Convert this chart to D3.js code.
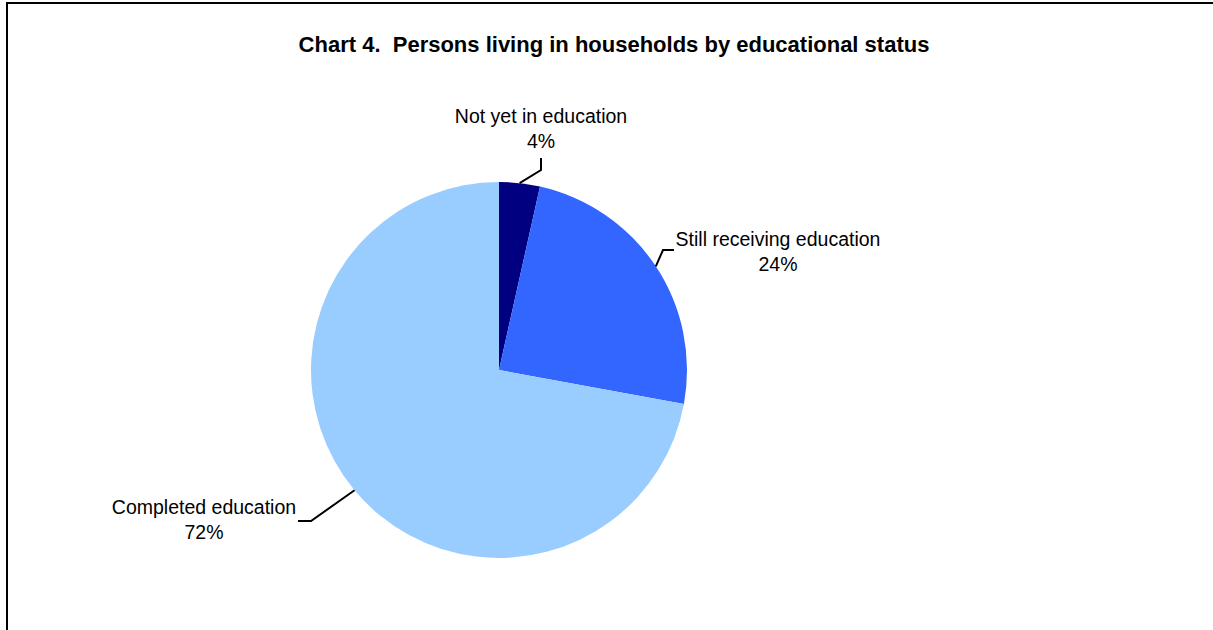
<!DOCTYPE html>
<html><head><meta charset="utf-8">
<script src="https://cdn.jsdelivr.net/npm/d3@7"></script>
<style>
html,body{margin:0;padding:0;background:#fff;}
svg{display:block;font-family:"Liberation Sans",Arial,sans-serif;}
text{white-space:pre;}
</style></head>
<body>
<svg id="chart" width="1213" height="630"></svg>
<script>
const categories = ["Not yet in education", "Still receiving education", "Completed education"];
const values = [3.5, 24.4, 72.1];
const colors = ["#000080", "#3366FF", "#99CCFF"];
const title = "Chart 4.  Persons living in households by educational status";

const svg = d3.select("#chart");
// frame
svg.append("path").attr("d", "M7,640 L7,3 L1220,3").attr("fill", "none").attr("stroke", "#000").attr("stroke-width", 2);

svg.append("text").attr("x", 614).attr("y", 52).attr("text-anchor", "middle")
  .attr("font-weight", "bold").attr("font-size", 22).text(title);

const cx = 499, cy = 370, r = 188;
const total = d3.sum(values);
const pie = d3.pie().sort(null).value(d => d)(values);
const arc = d3.arc().innerRadius(0).outerRadius(r);
const g = svg.append("g").attr("transform", `translate(${cx},${cy})`);
g.selectAll("path.slice").data(pie).join("path").attr("class", "slice")
  .attr("d", arc).attr("fill", (d, i) => colors[i]);

// label layout: leader line points and label anchor
const labelPos = [
  {lx: 541, ly: 123, line: [[541, 170], [541, 158]]},
  {lx: 778, ly: 246, line: [[663, 250], [674, 250]]},
  {lx: 204, ly: 514, line: [[311, 521], [298, 521]]}
];
pie.forEach((d, i) => {
  const mid = (d.startAngle + d.endAngle) / 2;
  const px = cx + r * Math.sin(mid), py = cy - r * Math.cos(mid);
  const lp = labelPos[i];
  const pts = [[px, py], lp.line[0], lp.line[1]];
  svg.append("path").attr("d", d3.line()(pts)).attr("fill", "none")
    .attr("stroke", "#000").attr("stroke-width", 2);
  const t = svg.append("text").attr("text-anchor", "middle").attr("font-size", 19.5).attr("fill", "#000");
  t.append("tspan").attr("x", lp.lx).attr("y", lp.ly).text(categories[i]);
  t.append("tspan").attr("x", lp.lx).attr("y", lp.ly + 25).text(Math.round(values[i] / total * 100) + "%");
});
</script>
</body></html>
